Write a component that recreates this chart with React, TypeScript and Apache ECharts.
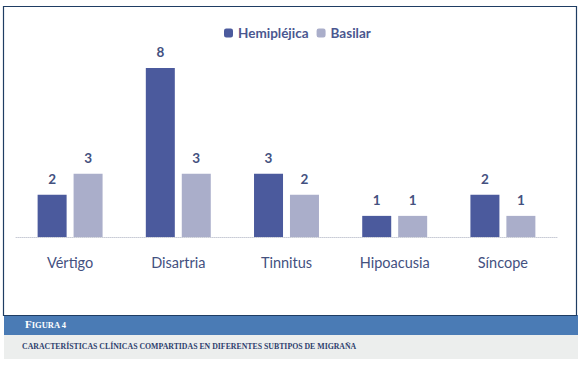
import React, { useEffect, useRef } from "react";
import * as echarts from "echarts";

const categories = ["Vértigo", "Disartria", "Tinnitus", "Hipoacusia", "Síncope"];
const hemiplejica = [2, 8, 3, 1, 2];
const basilar = [3, 3, 2, 1, 1];
const seriesNames = ["Hemipléjica", "Basilar"];
const figureLabel = "IGURA 4";
const caption = "CARACTERÍSTICAS CLÍNICAS COMPARTIDAS EN DIFERENTES SUBTIPOS DE MIGRAÑA";

export default function App() {
  const ref = useRef<HTMLDivElement>(null);
  useEffect(() => {
    if (!ref.current) return;
    const chart = echarts.init(ref.current, null, { renderer: "svg" });
    const labelColor = "#44517f";
    const font = "Lato, 'Open Sans', sans-serif";
    chart.setOption({
      animation: false,
      backgroundColor: "#ffffff",
      legend: {
        top: 21,
        left: 219,
        itemWidth: 9,
        itemHeight: 9,
        itemGap: 8,
        textStyle: { color: "#4a5790", fontSize: 13.5, fontFamily: font, fontWeight: "bold" },
        data: seriesNames,
      },
      grid: { left: 16, right: 24, top: 68, bottom: 135, containLabel: false },
      xAxis: {
        type: "category",
        data: categories,
        axisTick: { show: false },
        axisLine: { lineStyle: { color: "#c8cbd6", type: "dotted", width: 1 } },
        axisLabel: { color: labelColor, fontSize: 14.5, fontFamily: font, margin: 18 },
      },
      yAxis: {
        type: "value",
        min: 0,
        max: 8,
        show: false,
        splitLine: { show: false },
      },
      series: [
        {
          name: seriesNames[0],
          type: "bar",
          data: hemiplejica,
          barWidth: 29,
          barGap: "24%",
          itemStyle: { color: "#4b5a9d" },
          label: { show: true, position: "top", distance: 9, color: labelColor, fontSize: 13.5, fontFamily: font, fontWeight: "bold" },
        },
        {
          name: seriesNames[1],
          type: "bar",
          data: basilar,
          barWidth: 29,
          itemStyle: { color: "#aaaeca" },
          label: { show: true, position: "top", distance: 9, color: labelColor, fontSize: 13.5, fontFamily: font, fontWeight: "bold" },
        },
      ],
      graphic: [
        {
          type: "rect",
          shape: { x: 3.5, y: 6.5, width: 573, height: 309 },
          style: { fill: "none", stroke: "#1f3d63", lineWidth: 1.2 },
          silent: true,
          z: 10,
        },
        {
          type: "rect",
          shape: { x: 4, y: 315, width: 574, height: 20 },
          style: { fill: "#4a7bb5" },
          silent: true,
        },
        {
          type: "rect",
          shape: { x: 4, y: 335, width: 574, height: 24 },
          style: { fill: "#eceeed" },
          silent: true,
        },
        {
          type: "text",
          x: 25,
          y: 324,
          style: {
            text: "{a|F}{b|" + figureLabel + "}",
            verticalAlign: "middle",
            rich: {
              a: { fontSize: 11, fontFamily: "'Liberation Serif', serif", fontWeight: "bold", fill: "#ffffff", verticalAlign: "bottom" },
              b: { fontSize: 8.5, fontFamily: "'Liberation Serif', serif", fontWeight: "bold", fill: "#ffffff", verticalAlign: "bottom" },
            },
          },
          silent: true,
        },
        {
          type: "text",
          x: 22,
          y: 346,
          style: {
            text: caption,
            fontSize: 7.8,
            fontFamily: "'Liberation Serif', serif",
            fontWeight: "bold",
            fill: "#2e3f6e",
            verticalAlign: "middle",
          },
          silent: true,
        },
      ],
    });
    return () => chart.dispose();
  }, []);
  return <div ref={ref} style={{ position: "absolute", left: 0, top: 0, width: 581, height: 372 }} />;
}
